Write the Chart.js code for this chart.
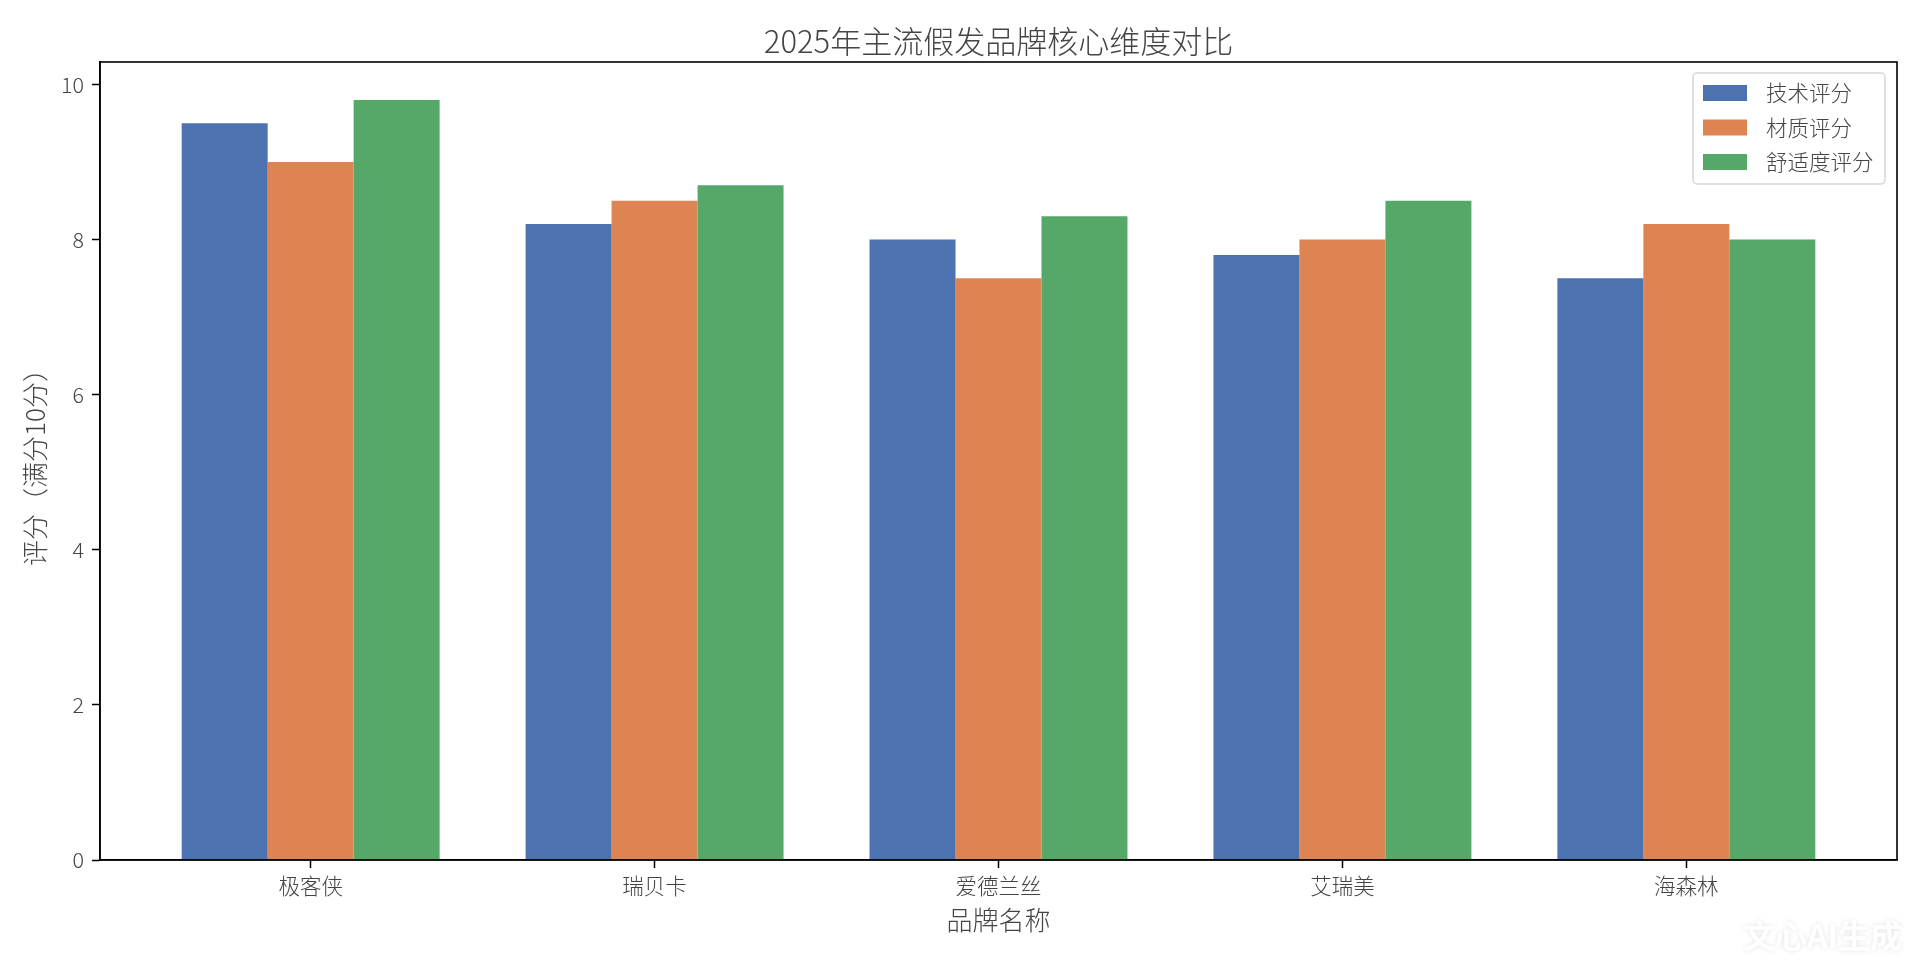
<!DOCTYPE html>
<html>
<head>
<meta charset="utf-8">
<title>2025年主流假发品牌核心维度对比</title>
<script src="https://cdn.jsdelivr.net/npm/chart.js@4.4.1/dist/chart.umd.min.js"></script>
<style>
  html, body { margin: 0; padding: 0; background: #fff; }
  #wrap { width: 1920px; height: 960px; }
</style>
</head>
<body>
<div id="wrap"><canvas id="brandChart" width="1920" height="960"></canvas></div>
<script>
const chartTitle = "2025年主流假发品牌核心维度对比";
const brands = ["极客侠", "瑞贝卡", "爱德兰丝", "艾瑞美", "海森林"];
const techScores = [9.5, 8.2, 8.0, 7.8, 7.5];
const materialScores = [9.0, 8.5, 7.5, 8.0, 8.2];
const comfortScores = [9.8, 8.7, 8.3, 8.5, 8.0];
const seriesNames = ["技术评分", "材质评分", "舒适度评分"];
const seriesColors = ["#4C72B0", "#DD8452", "#55A868"];
const yTicks = [0, 2, 4, 6, 8, 10];

const FONT = "'Noto Sans CJK SC', 'Noto Sans', sans-serif";
const TEXT = "#444";

// matplotlib-like limits: bar edges +-0.375, 5% margin
const xMin = -0.375 - 0.05 * (brands.length - 1 + 0.75);
const xMax = brands.length - 1 + 0.375 + 0.05 * (brands.length - 1 + 0.75);
const yMax = Math.max(...techScores, ...materialScores, ...comfortScores) * 1.05;

const toPoints = arr => arr.map((v, i) => ({ x: i, y: v }));

// title over the axes, top/right spines, legend box and the watermark
const framePlugin = {
  id: "frame",
  afterDraw(chart) {
    const { ctx, chartArea: a } = chart;
    ctx.save();
    ctx.strokeStyle = "#000";
    ctx.lineWidth = 1.6;
    ctx.strokeRect(a.left, a.top, a.right - a.left, a.bottom - a.top);

    ctx.fillStyle = TEXT;
    ctx.font = "300 31px " + FONT;
    ctx.textAlign = "center";
    ctx.textBaseline = "middle";
    ctx.fillText(chartTitle, (a.left + a.right) / 2, 41);

    // legend
    const bx = a.right - 204, by = a.top + 11, bw = 192, bh = 111;
    ctx.fillStyle = "rgba(255,255,255,0.85)";
    ctx.strokeStyle = "#d6d6d6";
    ctx.lineWidth = 1.5;
    ctx.beginPath();
    ctx.roundRect(bx, by, bw, bh, 4);
    ctx.fill();
    ctx.stroke();
    ctx.font = "300 21.5px " + FONT;
    ctx.textAlign = "left";
    chart.data.datasets.forEach((ds, i) => {
      const cy = by + 20 + i * 34.5;
      ctx.fillStyle = ds.backgroundColor;
      ctx.fillRect(bx + 10, cy - 8, 44, 16);
      ctx.fillStyle = TEXT;
      ctx.fillText(ds.label, bx + 73, cy);
    });

    // watermark
    ctx.font = "bold 32px " + FONT;
    ctx.textAlign = "right";
    ctx.shadowColor = "rgba(0,0,0,0.12)";
    ctx.shadowBlur = 5;
    ctx.fillStyle = "rgba(255,255,255,0.95)";
    ctx.fillText("文心AI生成", 1902, 936);
    ctx.restore();
  }
};

new Chart(document.getElementById("brandChart"), {
  type: "bar",
  data: {
    datasets: [
      { label: seriesNames[0], data: toPoints(techScores), backgroundColor: seriesColors[0] },
      { label: seriesNames[1], data: toPoints(materialScores), backgroundColor: seriesColors[1] },
      { label: seriesNames[2], data: toPoints(comfortScores), backgroundColor: seriesColors[2] }
    ]
  },
  options: {
    responsive: false,
    animation: false,
    devicePixelRatio: 1,
    layout: { padding: { left: 0, right: 23, top: 62, bottom: 0 } },
    datasets: {
      bar: {
        categoryPercentage: 0.75,
        barPercentage: 1.0,
        borderWidth: 0
      }
    },
    plugins: {
      legend: { display: false },
      tooltip: { enabled: false },
      title: { display: false }
    },
    scales: {
      x: {
        type: "linear",
        min: xMin,
        max: xMax,
        offset: false,
        afterBuildTicks: s => { s.ticks = brands.map((b, i) => ({ value: i })); },
        afterFit: s => { s.height = 100; },
        ticks: {
          callback: v => brands[v],
          color: TEXT,
          font: { family: FONT, size: 21.5, weight: "300" },
          padding: 5,
          maxRotation: 0,
          autoSkip: false
        },
        grid: { offset: false, drawOnChartArea: false, tickLength: 8, tickColor: "#000", tickWidth: 1.5 },
        border: { color: "#000", width: 1.6 },
        title: {
          display: true,
          text: "品牌名称",
          color: TEXT,
          font: { family: FONT, size: 26, weight: "300", lineHeight: 1.2 },
          padding: { top: 0, bottom: 24.4 }
        }
      },
      y: {
        min: 0,
        max: yMax,
        afterBuildTicks: s => { s.ticks = yTicks.map(v => ({ value: v })); },
        afterFit: s => { s.width = 100; },
        ticks: {
          color: TEXT,
          font: { family: FONT, size: 21.5, weight: "300" },
          padding: 8
        },
        grid: { drawOnChartArea: false, tickLength: 8, tickColor: "#000", tickWidth: 1.5 },
        border: { color: "#000", width: 1.6 },
        title: {
          display: true,
          text: "评分（满分10分）",
          color: TEXT,
          font: { family: FONT, size: 26, weight: "300", lineHeight: 1.2 },
          padding: { top: 19.4, bottom: 0 }
        }
      }
    }
  },
  plugins: [framePlugin]
});
</script>
</body>
</html>
